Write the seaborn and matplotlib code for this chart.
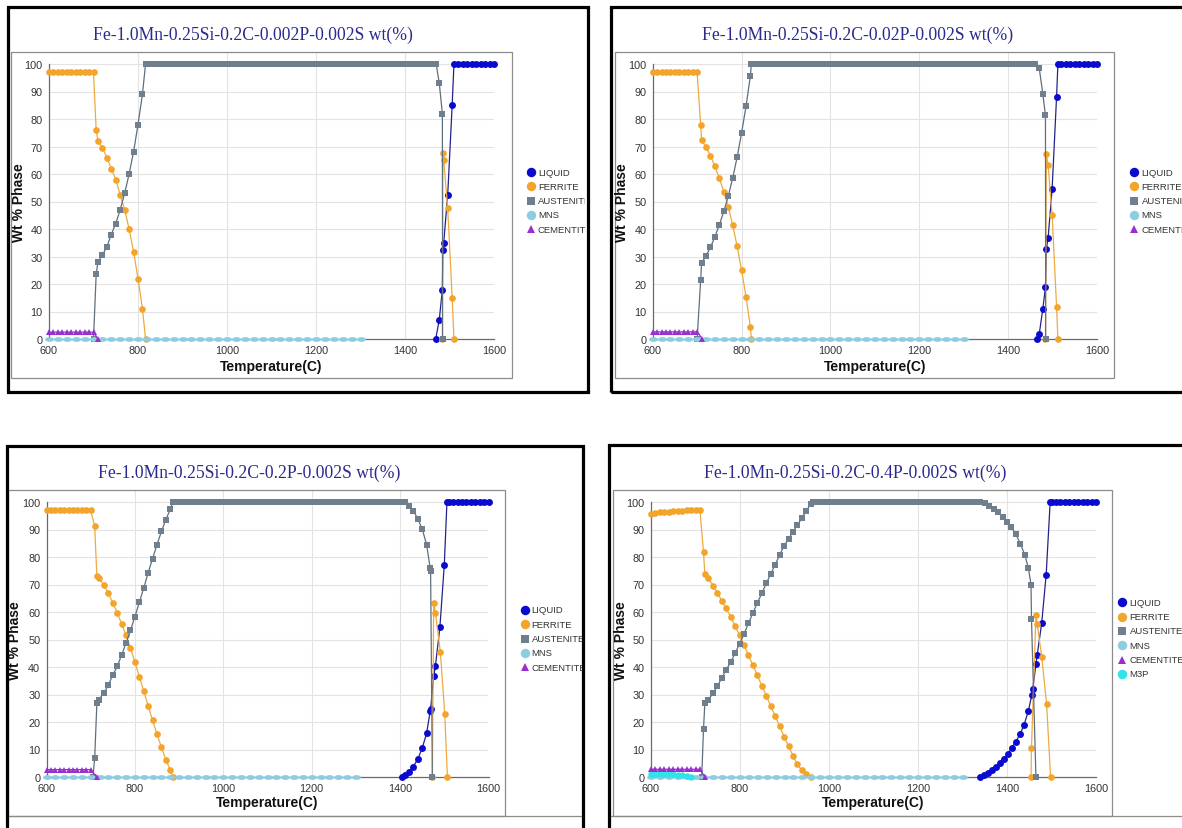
import matplotlib
matplotlib.use("Agg")
import matplotlib.pyplot as plt
import numpy as np
import pandas as pd
import seaborn as sns
from matplotlib.patches import Rectangle
from matplotlib.lines import Line2D
from matplotlib.path import Path
from matplotlib.ticker import MultipleLocator

# ---------------------------------------------------------------- data
TITLES = [
    "Fe-1.0Mn-0.25Si-0.2C-0.002P-0.002S wt(%)",
    "Fe-1.0Mn-0.25Si-0.2C-0.02P-0.002S wt(%)",
    "Fe-1.0Mn-0.25Si-0.2C-0.2P-0.002S wt(%)",
    "Fe-1.0Mn-0.25Si-0.2C-0.4P-0.002S wt(%)",
]
X_TICKS = [600, 800, 1000, 1200, 1400, 1600]
Y_TICKS = [0, 10, 20, 30, 40, 50, 60, 70, 80, 90, 100]
X_LABEL = "Temperature(C)"
Y_LABEL = "Wt % Phase"
PHASES_A = ["LIQUID", "FERRITE", "AUSTENITE", "MNS", "CEMENTITE"]
PHASES_B = ["LIQUID", "FERRITE", "AUSTENITE", "MNS", "CEMENTITE", "M3P"]

# MnS (same in all four panels)
MNS_T = [600, 620, 640, 660, 680, 700, 720, 740, 760, 780,
         800, 820, 840, 860, 880, 900, 920, 940, 960, 980,
         1000, 1020, 1040, 1060, 1080, 1100, 1120, 1140, 1160, 1180,
         1200, 1220, 1240, 1260, 1280, 1300]
MNS_W = [0, 0, 0, 0, 0, 0, 0, 0, 0, 0,
         0, 0, 0, 0, 0, 0, 0, 0, 0, 0,
         0, 0, 0, 0, 0, 0, 0, 0, 0, 0,
         0, 0, 0, 0, 0, 0]

# ---- panel 1 : 0.002P
P1_LIQ_T = [1469, 1477, 1484, 1485, 1487, 1496, 1506, 1510, 1520, 1530,
            1540, 1550, 1560, 1570, 1580, 1590, 1600]
P1_LIQ_W = [0, 7, 18, 32.5, 35, 52.5, 85, 100, 100, 100,
            100, 100, 100, 100, 100, 100, 100]
P1_FER_T = [600, 610, 620, 630, 640, 650, 660, 670, 680, 690,
            700, 706, 710, 720, 730, 740, 750, 760, 770, 780,
            790, 800, 810, 817]
P1_FER_W = [97, 97, 97, 97, 97, 97, 97, 97, 97, 97,
            97, 76, 72, 69.5, 66, 62, 58, 52.5, 47, 40,
            31.8, 22, 11, 0]
P1_FER2_T = [1484, 1485, 1487, 1496, 1506, 1510]
P1_FER2_W = [0, 67.5, 65, 47.5, 15, 0]
P1_AUS_T = [700, 706, 710, 720, 730, 740, 750, 760, 770, 780,
            790, 800, 810, 817,
            820, 830, 840, 850, 860, 870, 880, 890, 900, 910,
            920, 930, 940, 950, 960, 970, 980, 990, 1000, 1010,
            1020, 1030, 1040, 1050, 1060, 1070, 1080, 1090, 1100, 1110,
            1120, 1130, 1140, 1150, 1160, 1170, 1180, 1190, 1200, 1210,
            1220, 1230, 1240, 1250, 1260, 1270, 1280, 1290, 1300, 1310,
            1320, 1330, 1340, 1350, 1360, 1370, 1380, 1390, 1400, 1410,
            1420, 1430, 1440, 1450, 1460, 1470,
            1477, 1484, 1484.5]
P1_AUS_W = [0, 23.5, 28, 30.5, 33.5, 38, 42, 47, 53, 60,
            68, 78, 89, 100,
            100, 100, 100, 100, 100, 100, 100, 100, 100, 100,
            100, 100, 100, 100, 100, 100, 100, 100, 100, 100,
            100, 100, 100, 100, 100, 100, 100, 100, 100, 100,
            100, 100, 100, 100, 100, 100, 100, 100, 100, 100,
            100, 100, 100, 100, 100, 100, 100, 100, 100, 100,
            100, 100, 100, 100, 100, 100, 100, 100, 100, 100,
            100, 100, 100, 100, 100, 100,
            93, 82, 0]
P1_CEM_T = [600, 610, 620, 630, 640, 650, 660, 670, 680, 690, 700, 710]
P1_CEM_W = [2.5, 2.5, 2.5, 2.5, 2.5, 2.5, 2.5, 2.5, 2.5, 2.5, 2.5, 0]

# ---- panel 2 : 0.02P
P2_LIQ_T = [1465, 1470, 1478, 1484, 1486, 1490, 1499, 1509, 1512, 1520,
            1530, 1540, 1550, 1560, 1570, 1580, 1590, 1600]
P2_LIQ_W = [0, 1.8, 10.9, 18.8, 32.8, 36.8, 54.6, 88, 100, 100,
            100, 100, 100, 100, 100, 100, 100, 100]
P2_FER_T = [600, 610, 620, 630, 640, 650, 660, 670, 680, 690,
            700, 708, 710, 720, 730, 740, 750, 760, 770, 780,
            790, 800, 810, 820, 822]
P2_FER_W = [97, 97, 97, 97, 97, 97, 97, 97, 97, 97,
            97, 77.8, 72.4, 69.7, 66.7, 62.8, 58.4, 53.6, 48.1, 41.5,
            33.7, 25.1, 15.4, 4.2, 0]
P2_FER2_T = [1484, 1486, 1490, 1499, 1509, 1512]
P2_FER2_W = [0, 67.1, 63.1, 45.1, 11.8, 0]
P2_AUS_T = [700, 708, 710, 720, 730, 740, 750, 760, 770, 780,
            790, 800, 810, 820, 822,
            830, 840, 850, 860, 870, 880, 890, 900, 910, 920,
            930, 940, 950, 960, 970, 980, 990, 1000, 1010, 1020,
            1030, 1040, 1050, 1060, 1070, 1080, 1090, 1100, 1110, 1120,
            1130, 1140, 1150, 1160, 1170, 1180, 1190, 1200, 1210, 1220,
            1230, 1240, 1250, 1260, 1270, 1280, 1290, 1300, 1310, 1320,
            1330, 1340, 1350, 1360, 1370, 1380, 1390, 1400, 1410, 1420,
            1430, 1440, 1450, 1460,
            1470, 1478, 1484, 1484.5]
P2_AUS_W = [0, 21.5, 27.6, 30.3, 33.3, 37.2, 41.5, 46.4, 51.9, 58.5,
            66.1, 74.9, 84.6, 95.8, 100,
            100, 100, 100, 100, 100, 100, 100, 100, 100, 100,
            100, 100, 100, 100, 100, 100, 100, 100, 100, 100,
            100, 100, 100, 100, 100, 100, 100, 100, 100, 100,
            100, 100, 100, 100, 100, 100, 100, 100, 100, 100,
            100, 100, 100, 100, 100, 100, 100, 100, 100, 100,
            100, 100, 100, 100, 100, 100, 100, 100, 100, 100,
            100, 100, 100, 100,
            98.5, 89.2, 81.3, 0]
P2_CEM_T = [600, 610, 620, 630, 640, 650, 660, 670, 680, 690, 700, 712]
P2_CEM_W = [2.6, 2.6, 2.6, 2.6, 2.6, 2.6, 2.6, 2.6, 2.6, 2.6, 2.6, 0]

# ---- panel 3 : 0.2P
P3_LIQ_T = [1404, 1410, 1420, 1430, 1440, 1450, 1460, 1468, 1469, 1476,
            1480, 1490, 1500, 1506, 1510, 1520, 1530, 1540, 1550, 1560,
            1570, 1580, 1590, 1600]
P3_LIQ_W = [0, 0.7, 1.9, 3.8, 6.5, 10.5, 15.9, 23.9, 24.7, 36.7,
            40.5, 54.4, 77.2, 100, 100, 100, 100, 100, 100, 100,
            100, 100, 100, 100]
P3_FER_T = [600, 610, 620, 630, 640, 650, 660, 670, 680, 690,
            700, 709, 714, 718, 730, 740, 750, 760, 770, 780,
            790, 800, 810, 820, 830, 840, 850, 860, 870, 880,
            886]
P3_FER_W = [97, 97, 97, 97, 97, 97, 97, 97, 97, 97,
            97, 91.2, 73, 72.2, 69.8, 66.8, 63.3, 59.8, 55.6, 51.6,
            46.9, 41.8, 36.5, 31.3, 25.8, 20.6, 15.6, 10.8, 6.3, 2.5,
            0]
P3_FER2_T = [1473, 1476, 1480, 1491, 1501, 1507]
P3_FER2_W = [0, 63.3, 59.6, 45.5, 22.9, 0]
P3_AUS_T = [705, 709, 714, 718, 730, 740, 750, 760, 770, 780,
            790, 800, 810, 820, 830, 840, 850, 860, 870, 880,
            886,
            890, 900, 910, 920, 930, 940, 950, 960, 970, 980,
            990, 1000, 1010, 1020, 1030, 1040, 1050, 1060, 1070, 1080,
            1090, 1100, 1110, 1120, 1130, 1140, 1150, 1160, 1170, 1180,
            1190, 1200, 1210, 1220, 1230, 1240, 1250, 1260, 1270, 1280,
            1290, 1300, 1310, 1320, 1330, 1340, 1350, 1360, 1370, 1380,
            1390, 1400, 1410,
            1420, 1430, 1440, 1450, 1460, 1468, 1469, 1473]
P3_AUS_W = [0, 6.8, 26.9, 28.1, 30.5, 33.5, 37.1, 40.2, 44.4, 48.7,
            53.3, 58.3, 63.5, 68.7, 74.3, 79.4, 84.5, 89.3, 93.6, 97.3,
            100,
            100, 100, 100, 100, 100, 100, 100, 100, 100, 100,
            100, 100, 100, 100, 100, 100, 100, 100, 100, 100,
            100, 100, 100, 100, 100, 100, 100, 100, 100, 100,
            100, 100, 100, 100, 100, 100, 100, 100, 100, 100,
            100, 100, 100, 100, 100, 100, 100, 100, 100, 100,
            100, 100, 100,
            98.4, 96.8, 93.9, 90.2, 84.5, 76, 75, 0]
P3_CEM_T = [600, 610, 620, 630, 640, 650, 660, 670, 680, 690, 700, 714]
P3_CEM_W = [2.7, 2.7, 2.7, 2.7, 2.7, 2.7, 2.7, 2.7, 2.7, 2.7, 2.7, 0]

# ---- panel 4 : 0.4P
P4_LIQ_T = [1340, 1348, 1357, 1366, 1375, 1384, 1393, 1402, 1411, 1420,
            1429, 1438, 1448, 1456, 1458, 1465, 1468, 1478, 1488, 1497,
            1500, 1510, 1520, 1530, 1540, 1550, 1560, 1570, 1580, 1590,
            1600]
P4_LIQ_W = [0, 0.6, 1.4, 2.4, 3.6, 5, 6.6, 8.5, 10.6, 12.9,
            15.5, 18.8, 24, 30, 32, 41, 44.5, 56, 73.5, 100,
            100, 100, 100, 100, 100, 100, 100, 100, 100, 100,
            100]
P4_FER_T = [600, 610, 620, 630, 640, 650, 660, 670, 680, 690,
            700, 710, 718, 721, 729, 739, 749, 759, 769, 779,
            789, 799, 809, 819, 829, 839, 849, 859, 869, 879,
            889, 899, 909, 919, 929, 939, 949, 959]
P4_FER_W = [95.8, 96.0, 96.2, 96.4, 96.5, 96.7, 96.8, 96.9, 97.0, 97.1,
            97.1, 97.1, 81.7, 73.8, 72.4, 69.6, 67, 64.1, 61.3, 58.3,
            54.9, 51.5, 48.1, 44.2, 40.6, 37, 33.2, 29.6, 25.8, 22.2,
            18.4, 14.7, 11.2, 7.8, 4.6, 2.4, 1.0, 0]
P4_FER2_T = [1454, 1455, 1465, 1468, 1478, 1489, 1498]
P4_FER2_W = [0, 10.5, 59, 55.5, 43.8, 26.5, 0]
P4_AUS_T = [714, 718, 721, 729, 739, 749, 759, 769, 779, 789,
            799, 809, 819, 829, 839, 849, 859, 869, 879, 889,
            899, 909, 919, 929, 939, 949, 959, 963,
            970, 980, 990, 1000, 1010, 1020, 1030, 1040, 1050, 1060,
            1070, 1080, 1090, 1100, 1110, 1120, 1130, 1140, 1150, 1160,
            1170, 1180, 1190, 1200, 1210, 1220, 1230, 1240, 1250, 1260,
            1270, 1280, 1290, 1300, 1310, 1320, 1330,
            1340, 1350, 1360, 1370, 1380, 1390, 1400, 1410, 1420, 1430,
            1440, 1448, 1454, 1455, 1465]
P4_AUS_W = [0, 17.5, 26.8, 28.1, 30.4, 33, 36, 39, 41.7, 45,
            48.4, 52, 55.9, 59.6, 63.3, 66.8, 70.4, 73.8, 77.2, 80.7,
            84.1, 86.5, 89.2, 91.6, 94.2, 96.8, 99.3, 100,
            100, 100, 100, 100, 100, 100, 100, 100, 100, 100,
            100, 100, 100, 100, 100, 100, 100, 100, 100, 100,
            100, 100, 100, 100, 100, 100, 100, 100, 100, 100,
            100, 100, 100, 100, 100, 100, 100,
            100, 99.5, 98.7, 97.6, 96.2, 94.5, 92.8, 90.8, 88.2, 84.8,
            80.8, 76, 70, 57.5, 0]
P4_CEM_T = [600, 610, 620, 630, 640, 650, 660, 670, 680, 690, 700, 710, 721]
P4_CEM_W = [2.8, 2.8, 2.8, 2.8, 2.8, 2.8, 2.8, 2.8, 2.8, 2.8, 2.8, 2.8, 0]
P4_M3P_T = [600, 610, 620, 630, 640, 650, 660, 670, 680, 690]
P4_M3P_W = [1.2, 1.2, 1.1, 1.1, 1.0, 1.0, 0.9, 0.8, 0.5, 0]

SERIES = [
    [("LIQUID", P1_LIQ_T, P1_LIQ_W), ("FERRITE", P1_FER_T, P1_FER_W),
     ("FERRITE", P1_FER2_T, P1_FER2_W), ("AUSTENITE", P1_AUS_T, P1_AUS_W),
     ("MNS", MNS_T, MNS_W), ("CEMENTITE", P1_CEM_T, P1_CEM_W)],
    [("LIQUID", P2_LIQ_T, P2_LIQ_W), ("FERRITE", P2_FER_T, P2_FER_W),
     ("FERRITE", P2_FER2_T, P2_FER2_W), ("AUSTENITE", P2_AUS_T, P2_AUS_W),
     ("MNS", MNS_T, MNS_W), ("CEMENTITE", P2_CEM_T, P2_CEM_W)],
    [("LIQUID", P3_LIQ_T, P3_LIQ_W), ("FERRITE", P3_FER_T, P3_FER_W),
     ("FERRITE", P3_FER2_T, P3_FER2_W), ("AUSTENITE", P3_AUS_T, P3_AUS_W),
     ("MNS", MNS_T, MNS_W), ("CEMENTITE", P3_CEM_T, P3_CEM_W)],
    [("LIQUID", P4_LIQ_T, P4_LIQ_W), ("FERRITE", P4_FER_T, P4_FER_W),
     ("FERRITE", P4_FER2_T, P4_FER2_W), ("AUSTENITE", P4_AUS_T, P4_AUS_W),
     ("MNS", MNS_T, MNS_W), ("M3P", P4_M3P_T, P4_M3P_W),
     ("CEMENTITE", P4_CEM_T, P4_CEM_W)],
]
LEGENDS = [PHASES_A, PHASES_A, PHASES_A, PHASES_B]

# ---------------------------------------------------------------- layout (pixels)
W_PX, H_PX = 1182, 829
YTOP = 104.4
LAYOUT = [
    dict(axis=(49, 494, 340, 65), frame=(8, 8, 588, 393), box=(11, 53, 512, 379),
         title=(253, 35), ylab=(19, 203), xlab=(271.5, 367), leg=(530.6, 173, 538), base=None),
    dict(axis=(652.7, 1097, 340, 65), frame=(611, 8, 1200, 393), box=(615, 53, 1114, 379),
         title=(858, 35), ylab=(622, 203), xlab=(875, 367), leg=(1134.2, 173, 1141.5), base=None),
    dict(axis=(46.5, 488.5, 778, 503), frame=(7, 447, 583, 845), box=(8, 491, 505, 817),
         title=(249, 473), ylab=(15, 641), xlab=(267.5, 803), leg=(524.7, 611, 531.5), base=(7, 583)),
    dict(axis=(651, 1096, 778, 503), frame=(609, 446, 1200, 845), box=(613, 491, 1112, 817),
         title=(855, 473), ylab=(621, 641), xlab=(873.5, 803), leg=(1122.3, 603.3, 1129.7), base=(609, 1190)),
]
LEG_STEP = 14.3

_c = Path.unit_circle()
ELLIPSE = Path(_c.vertices * np.array([1.0, 0.55]), _c.codes)

STYLE = {
    "LIQUID": dict(marker="o", ms=5.0, mfc="#0b0bd0", lc="#23238a", lms=6.8, z=3),
    "FERRITE": dict(marker="o", ms=4.8, mfc="#f2a52a", lc="#eeaa40", lms=6.8, z=4),
    "AUSTENITE": dict(marker="s", ms=4.3, mfc="#6f7f8d", lc="#5f6f7d", lms=6.3, z=5),
    "MNS": dict(marker=ELLIPSE, ms=6.3, mfc="#8ccde2", lc="#8ccde2", lms=6.8, z=6),
    "M3P": dict(marker="o", ms=4.6, mfc="#30e3e8", lc="#30e3e8", lms=6.8, z=7),
    "CEMENTITE": dict(marker="^", ms=5.0, mfc="#9a2fd0", lc="#9a2fd0", lms=6.3, z=8),
}
LEG_MARKER = {"LIQUID": "o", "FERRITE": "o", "AUSTENITE": "s", "MNS": "o",
              "M3P": "o", "CEMENTITE": "^"}
GRID_C = "#e3e3e3"
AXIS_C = "#6a6a6a"
TITLE_C = "#2a2a8e"

sns.set_theme(style="white")
plt.rcParams["font.family"] = ["Liberation Sans", "DejaVu Sans"]

fig = plt.figure(figsize=(W_PX / 100, H_PX / 100), dpi=100)
fig.patch.set_facecolor("white")


def fx(x):
    return x / W_PX


def fy(y):
    return 1 - y / H_PX


def rect(x0, y0, x1, y1, **kw):
    r = Rectangle((fx(x0), fy(y1)), (x1 - x0) / W_PX, (y1 - y0) / H_PX,
                  transform=fig.transFigure, **kw)
    fig.add_artist(r)
    return r


def draw(ax, key, T, Wv):
    st = STYLE[key]
    df = pd.DataFrame({"T": T, "W": Wv})
    sns.lineplot(data=df, x="T", y="W", ax=ax, estimator=None, sort=False,
                 color=st["lc"], lw=0.9, marker=st["marker"], markersize=st["ms"],
                 markerfacecolor=st["mfc"], markeredgewidth=0, clip_on=False,
                 zorder=st["z"], legend=False)


for i, lay in enumerate(LAYOUT):
    x600, x1600, y0, y100 = lay["axis"]
    ppu = (y0 - y100) / 100.0
    ytop = y0 - YTOP * ppu
    ax = fig.add_axes([fx(x600), fy(y0), (x1600 - x600) / W_PX, (y0 - ytop) / H_PX])
    ax.set_facecolor("none")
    for key, T, Wv in SERIES[i]:
        draw(ax, key, T, Wv)
    ax.set_xlim(600, 1600)
    ax.set_ylim(0, YTOP)
    ax.set_xlabel("")
    ax.set_ylabel("")
    for gx in X_TICKS[1:-1]:
        ax.axvline(gx, color=GRID_C, lw=0.8, zorder=0)
    for gy in Y_TICKS[1:]:
        ax.axhline(gy, color=GRID_C, lw=0.8, zorder=0)
    ax.set_xticks(X_TICKS)
    ax.set_yticks(Y_TICKS)
    ax.xaxis.set_minor_locator(MultipleLocator(100))
    ax.yaxis.set_minor_locator(MultipleLocator(5))
    for s in ("top", "right"):
        ax.spines[s].set_visible(False)
    for s in ("left", "bottom"):
        ax.spines[s].set_color(AXIS_C)
        ax.spines[s].set_linewidth(0.9)
    ax.spines["left"].set_bounds(0, 100)
    ax.tick_params(axis="both", which="both", colors=AXIS_C, labelcolor="#333333",
                   labelsize=7.8, width=0.8)
    ax.tick_params(axis="y", which="major", direction="out", length=3, pad=1.5)
    ax.tick_params(axis="y", which="minor", direction="out", length=2)
    ax.tick_params(axis="x", which="major", direction="inout", length=5, pad=1.5)
    ax.tick_params(axis="x", which="minor", direction="inout", length=3)
    ax.set_xticklabels([str(t) for t in X_TICKS])
    ax.set_yticklabels([str(t) for t in Y_TICKS])

    # texts
    tx, ty = lay["title"]
    fig.text(fx(tx), fy(ty), TITLES[i], ha="center", va="center", fontsize=12.7,
             color=TITLE_C, family=["Liberation Serif", "DejaVu Serif"], zorder=5)
    lx, ly = lay["ylab"]
    fig.text(fx(lx), fy(ly), Y_LABEL, rotation=90, ha="center", va="center",
             fontsize=10, fontweight="bold", color="#111111", zorder=5)
    bx, by = lay["xlab"]
    fig.text(fx(bx), fy(by), X_LABEL, ha="center", va="center",
             fontsize=10, fontweight="bold", color="#111111", zorder=5)

    # legend
    mx, my, tx2 = lay["leg"]
    for j, key in enumerate(LEGENDS[i]):
        yy = my + j * LEG_STEP
        st = STYLE[key]
        fig.add_artist(Line2D([fx(mx)], [fy(yy)], marker=LEG_MARKER[key], ms=st["lms"],
                              mfc=st["mfc"], mec=st["mfc"], mew=0, ls="none",
                              transform=fig.transFigure, zorder=5))
        fig.text(fx(tx2), fy(yy), key, ha="left", va="center", fontsize=6.8,
                 color="#333333", zorder=5)

    # inner box and outer frame
    b0, b1, b2, b3 = lay["box"]
    rect(b0, b1, b2, b3, fill=False, ec="#8c8c8c", lw=0.9, zorder=4)
    if lay["base"] is not None:
        fig.add_artist(Line2D([fx(lay["base"][0]), fx(lay["base"][1])], [fy(b3), fy(b3)],
                              color="#8c8c8c", lw=0.9, transform=fig.transFigure, zorder=4))
    f0, f1, f2, f3 = lay["frame"]
    rect(f0, f1, f2, f3, fill=False, ec="black", lw=2.3, zorder=10)

# white gutters hiding legend text beyond the left frames
rect(589.8, 0, 609.6, H_PX, fc="white", ec="none", zorder=9)
rect(584.8, 0, 607.6, H_PX, fc="white", ec="none", zorder=9)

fig.savefig("out.png", dpi=100, facecolor="white")
